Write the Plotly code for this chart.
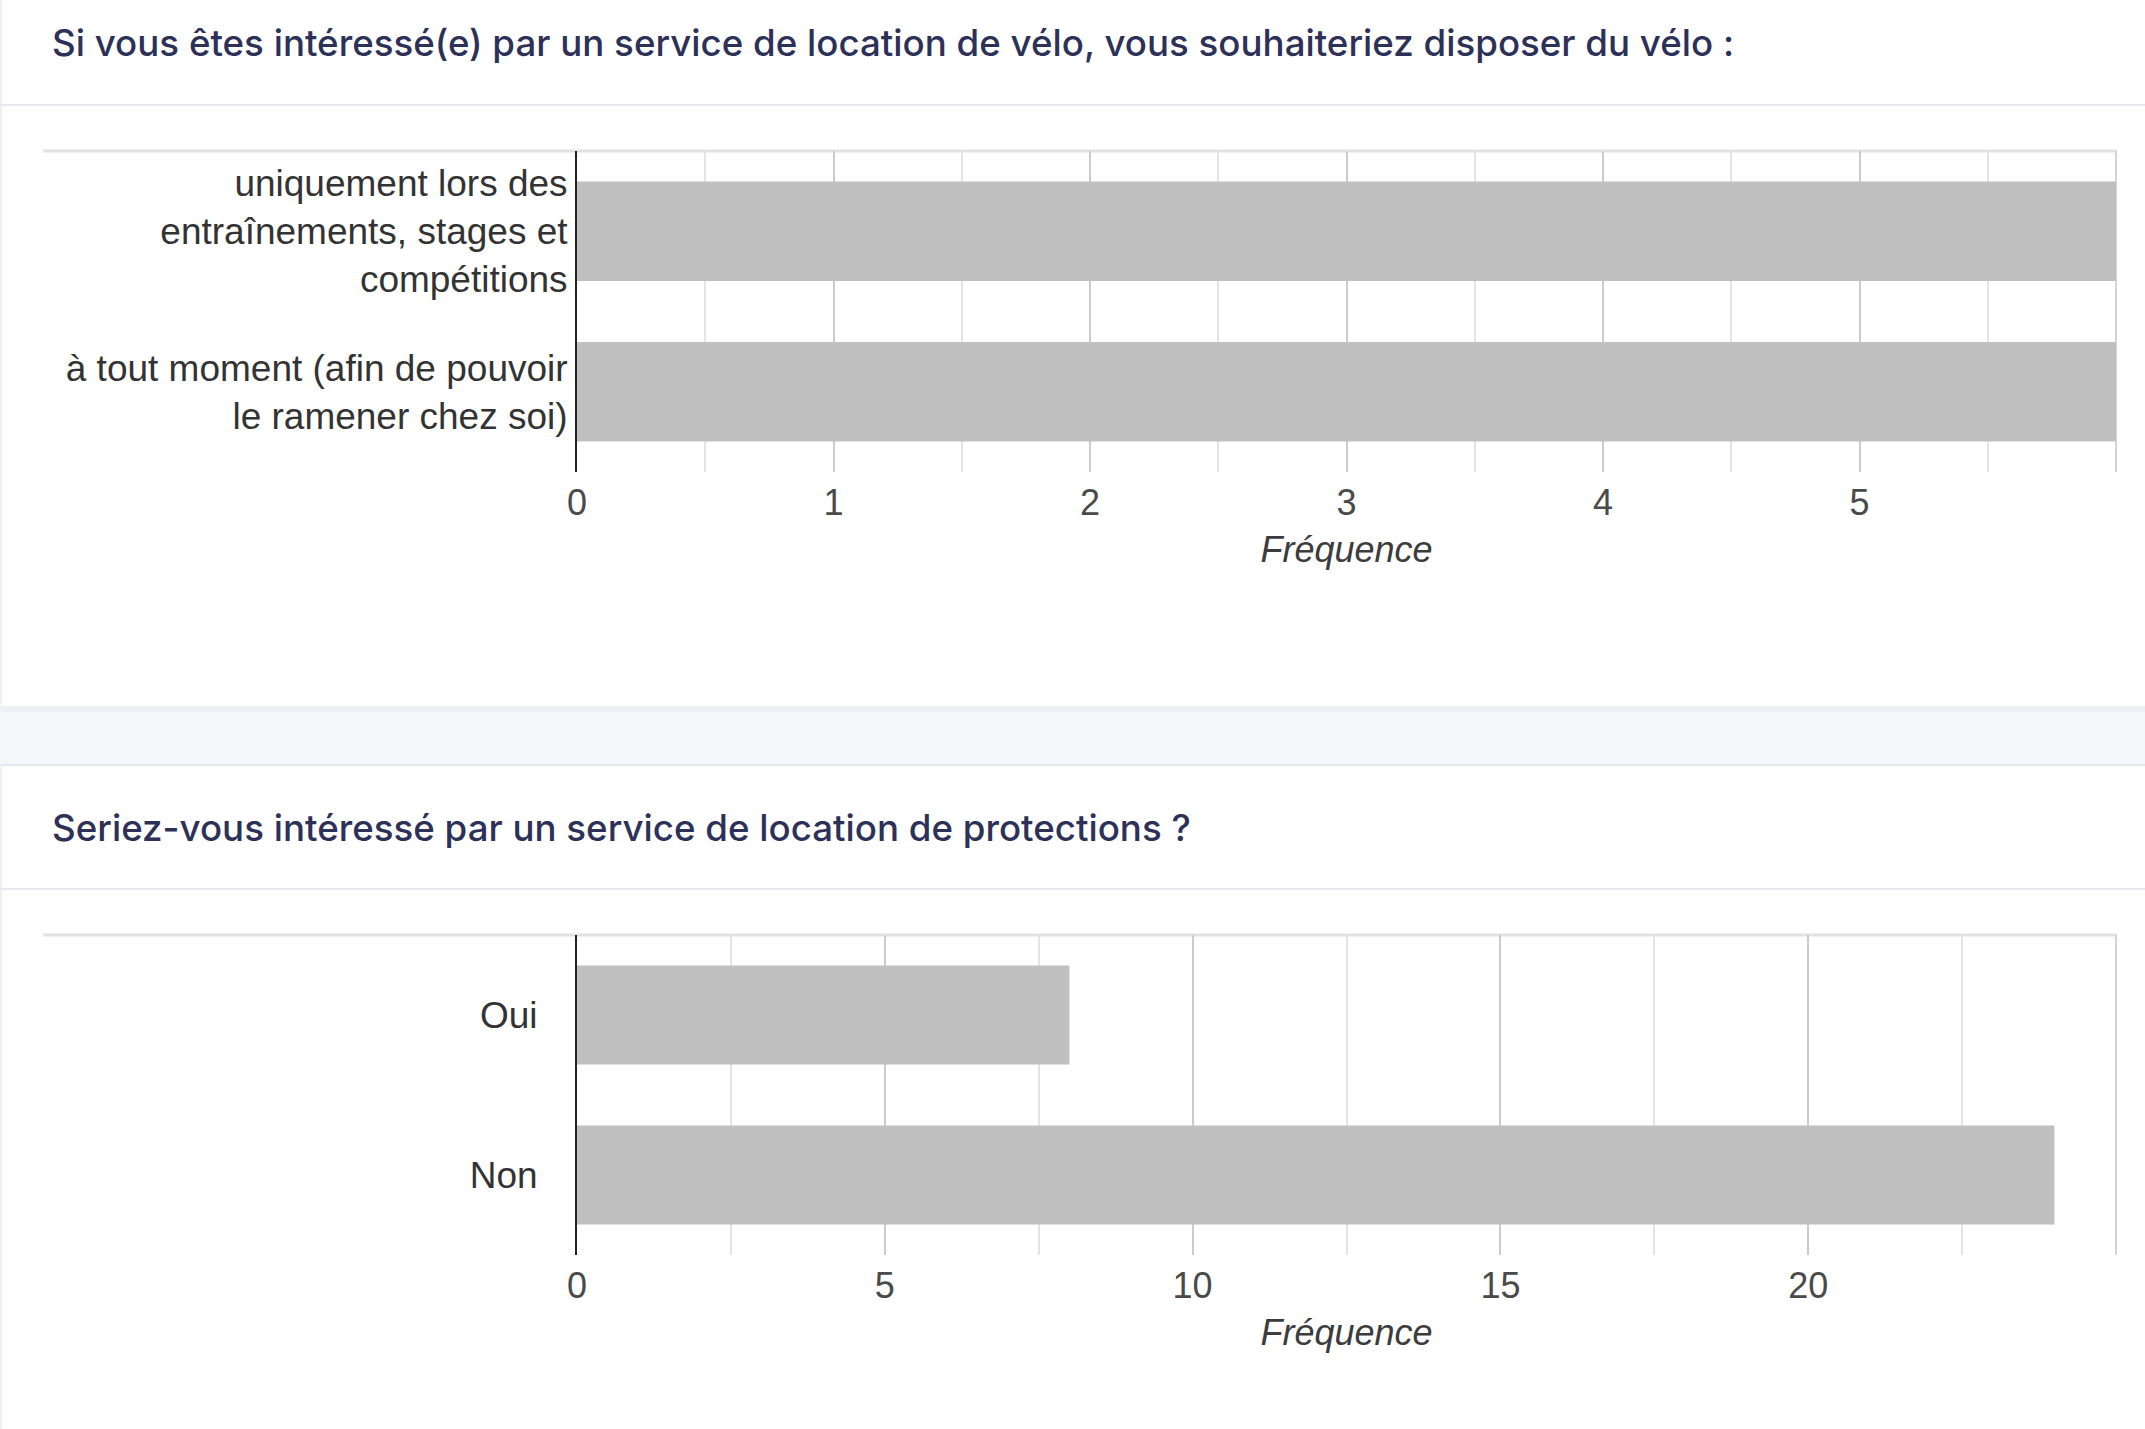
import plotly.graph_objects as go

# ---- data ----
q1_title = "Si vous êtes intéressé(e) par un service de location de vélo, vous souhaiteriez disposer du vélo :"
q1_categories = ["uniquement lors des<br>entraînements, stages et<br>compétitions",
                 "à tout moment (afin de pouvoir<br>le ramener chez soi)"]
q1_values = [6, 6]
q1_ticks = [0, 1, 2, 3, 4, 5]
q1_range = [0, 6]

q2_title = "Seriez-vous intéressé par un service de location de protections ?"
q2_categories = ["Oui", "Non"]
q2_values = [8, 24]
q2_ticks = [0, 5, 10, 15, 20]
q2_range = [0, 25]

axis_title = "Fréquence"

W, H = 2145, 1429
def py(px):
    return 1 - px / H
def pxx(px):
    return px / W

BAR = "#c0c0c0"
LABEL_FONT = dict(family="Liberation Sans, Arial, sans-serif", size=37, color="#333333")
TICK_FONT = dict(family="Liberation Sans, Arial, sans-serif", size=36, color="#4a4a4a")
TITLE_FONT = dict(family="Inter, Noto Sans, sans-serif", size=36.7, color="#2e3157", weight=500)

fig = go.Figure()
fig.add_trace(go.Bar(y=q1_categories, x=q1_values, orientation="h", marker_color=BAR,
                     marker_line_width=0, xaxis="x", yaxis="y", showlegend=False))
fig.add_trace(go.Bar(y=q2_categories, x=q2_values, orientation="h", marker_color=BAR,
                     marker_line_width=0, xaxis="x2", yaxis="y2", showlegend=False))

xdom = [pxx(577), pxx(2116)]
common_x = dict(showline=False, zeroline=False, showgrid=True, gridcolor="#cccccc", gridwidth=2,
                ticks="", tickfont=TICK_FONT, fixedrange=True, automargin=False,
                ticklabelstandoff=6,
                title=dict(text=axis_title, font=dict(family="Liberation Sans, Arial, sans-serif",
                                                      size=36, color="#3c3c3c", style="italic"),
                           standoff=14))
common_y = dict(showline=True, linecolor="#222222", linewidth=2, showgrid=False, zeroline=False,
                ticks="", ticklen=0, tickfont=LABEL_FONT, autorange="reversed", fixedrange=True,
                automargin=False)

fig.update_layout(
    width=W, height=H, margin=dict(l=0, r=0, t=0, b=0, pad=0),
    paper_bgcolor="white", plot_bgcolor="white", bargap=0.38,
    xaxis=dict(domain=xdom, range=q1_range, tickvals=q1_ticks, anchor="y",
               minor=dict(dtick=0.5, tick0=0, showgrid=True, gridcolor="#e4e4e4", gridwidth=2),
               **common_x),
    yaxis=dict(domain=[py(472), py(151)], anchor="x", ticklabelstandoff=0, **common_y),
    xaxis2=dict(domain=xdom, range=q2_range, tickvals=q2_ticks, anchor="y2",
                minor=dict(dtick=2.5, tick0=0, showgrid=True, gridcolor="#e4e4e4", gridwidth=2),
                **common_x),
    yaxis2=dict(domain=[py(1255), py(935)], anchor="x2", ticklabelstandoff=30, **common_y),
)

shapes = []
# page background gap between cards
shapes.append(dict(type="rect", xref="paper", yref="paper", x0=0, x1=1, y0=py(765), y1=py(706),
                   fillcolor="#f4f6fa", line_width=0, layer="below"))
shapes.append(dict(type="rect", xref="paper", yref="paper", x0=0, x1=1, y0=py(712), y1=py(706),
                   fillcolor="#eef0f6", line_width=0, layer="below"))
shapes.append(dict(type="line", xref="paper", yref="paper", x0=0, x1=1, y0=py(765), y1=py(765),
                   line=dict(color="#e6e8f0", width=2), layer="below"))
# card left borders
shapes.append(dict(type="line", xref="paper", yref="paper", x0=pxx(1), x1=pxx(1), y0=py(705), y1=1,
                   line=dict(color="#eceef2", width=2), layer="below"))
shapes.append(dict(type="line", xref="paper", yref="paper", x0=pxx(1), x1=pxx(1), y0=0, y1=py(767),
                   line=dict(color="#eceef2", width=2), layer="below"))
# header separators
for ysep in (105, 889):
    shapes.append(dict(type="line", xref="paper", yref="paper", x0=0, x1=1, y0=py(ysep), y1=py(ysep),
                       line=dict(color="#e9eaf0", width=2), layer="below"))
# chart top lines and right border lines
for xa, ya in (("x", "y"), ("x2", "y2")):
    shapes.append(dict(type="line", xref="paper", yref=ya + " domain", x0=pxx(43), x1=pxx(2117),
                       y0=1, y1=1, line=dict(color="#e2e2e2", width=3), layer="below"))
    shapes.append(dict(type="line", xref=xa + " domain", yref=ya + " domain", x0=1, x1=1,
                       y0=0, y1=1, line=dict(color="#d4d4d4", width=2), layer="below"))
fig.update_layout(shapes=shapes)

fig.add_annotation(text=q1_title, xref="paper", yref="paper", x=pxx(50), y=py(42),
                   xanchor="left", yanchor="middle", showarrow=False, font=TITLE_FONT)
fig.add_annotation(text=q2_title, xref="paper", yref="paper", x=pxx(50), y=py(827),
                   xanchor="left", yanchor="middle", showarrow=False, font=TITLE_FONT)

fig.write_html(
    "out.html",
    config={"displayModeBar": False},
    post_script="document.body.style.margin='0';document.body.style.padding='0';"
                "document.documentElement.style.overflow='hidden';",
)
